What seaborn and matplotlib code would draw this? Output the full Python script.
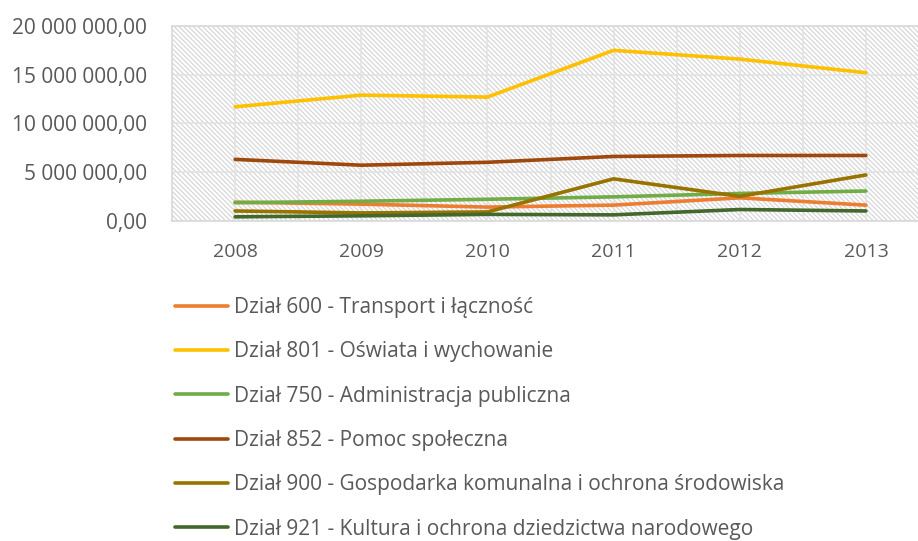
import matplotlib
matplotlib.use("Agg")
import matplotlib.pyplot as plt
import matplotlib.ticker as mticker
from matplotlib.patches import Rectangle
import numpy as np
import pandas as pd
import seaborn as sns

# values (PLN)
years = [2008, 2009, 2010, 2011, 2012, 2013]
dzial_600 = [1.9e6, 1.7e6, 1.4e6, 1.6e6, 2.35e6, 1.6e6]
dzial_801 = [11.7e6, 12.9e6, 12.7e6, 17.5e6, 16.6e6, 15.2e6]
dzial_750 = [1.85e6, 2.0e6, 2.2e6, 2.45e6, 2.8e6, 3.05e6]
dzial_852 = [6.3e6, 5.7e6, 6.0e6, 6.6e6, 6.7e6, 6.7e6]
dzial_900 = [1.0e6, 0.8e6, 0.9e6, 4.3e6, 2.5e6, 4.7e6]
dzial_921 = [0.4e6, 0.5e6, 0.65e6, 0.6e6, 1.15e6, 1.0e6]

labels = [
    "Dział 600 - Transport i łączność",
    "Dział 801 - Oświata i wychowanie",
    "Dział 750 - Administracja publiczna",
    "Dział 852 - Pomoc społeczna",
    "Dział 900 - Gospodarka komunalna i ochrona środowiska",
    "Dział 921 - Kultura i ochrona dziedzictwa narodowego",
]
colors = ["#ED7D31", "#FFC000", "#70AD47", "#9E480E", "#997300", "#43682B"]

series = [dzial_600, dzial_801, dzial_750, dzial_852, dzial_900, dzial_921]
rows = []
for lab, vals in zip(labels, series):
    for y, v in zip(years, vals):
        rows.append({"rok": y, "kwota": v, "dzial": lab})
df = pd.DataFrame(rows)

sns.set_style("white")
plt.rcParams["font.family"] = ["Open Sans", "DejaVu Sans"]
plt.rcParams["hatch.linewidth"] = 0.8
txt = "#595959"

fig = plt.figure(figsize=(9.18, 5.41), dpi=100)
ax = fig.add_axes([172 / 918, 1 - 220.7 / 541, 757 / 918, 194.7 / 541])

# hatched plot area background
bg = Rectangle((0, 0), 1, 1, transform=ax.transAxes, facecolor="white",
               edgecolor="#d3d3d3", hatch="\\" * 7, linewidth=0, zorder=0)
ax.add_patch(bg)

sns.lineplot(data=df, x="rok", y="kwota", hue="dzial", palette=colors,
             linewidth=2.6, ax=ax, legend=False, zorder=3)

ax.set_xlim(2007.5, 2013.5)
ax.set_ylim(0, 20e6)
ax.xaxis.set_major_locator(mticker.FixedLocator(years))
ax.xaxis.set_minor_locator(mticker.MultipleLocator(0.5))
ax.yaxis.set_major_locator(mticker.MultipleLocator(5e6))
ax.yaxis.set_major_formatter(mticker.FuncFormatter(
    lambda v, p: f"{v:,.2f}".replace(",", " ").replace(".", ",")))
ax.grid(True, which="both", axis="x", color="#e3e3e3", linewidth=1.2, zorder=1)
ax.grid(True, which="major", axis="y", color="#e3e3e3", linewidth=1.2, zorder=1)
ax.set_axisbelow(True)
for s in ax.spines.values():
    s.set_color("#d9d9d9")
    s.set_linewidth(1.2)
ax.tick_params(axis="both", which="both", length=0)
ax.tick_params(axis="y", labelsize=15, labelcolor=txt, pad=18)
ax.tick_params(axis="x", labelsize=14, labelcolor=txt, pad=16)
ax.set_xlabel("")
ax.set_ylabel("")

handles = [plt.Line2D([], [], color=c, linewidth=2.6) for c in colors]
fig.legend(handles, labels, loc="upper left", bbox_to_anchor=(175 / 918, 1 - 297 / 541),
           frameon=False, fontsize=15, labelcolor=txt, handlelength=2.55,
           handletextpad=0.3, labelspacing=1.12, borderaxespad=0, borderpad=0)

fig.savefig("out.png", dpi=100)
